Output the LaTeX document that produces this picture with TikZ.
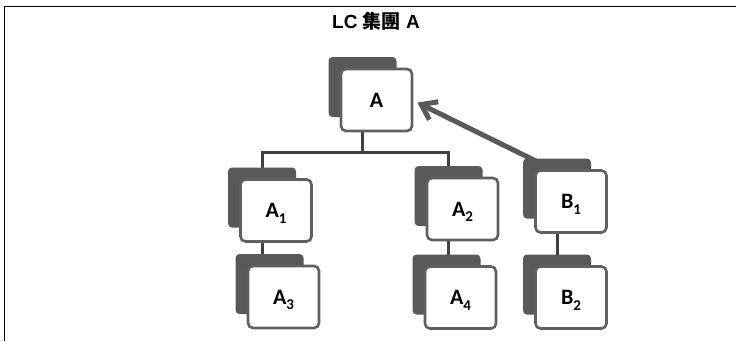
\documentclass[tikz,border=0pt]{standalone}
\usepackage{fontspec}
\setmainfont{Liberation Sans}
\newfontfamily\cardfont{Carlito}
\newfontfamily\cjk{Noto Sans CJK TC}
\usetikzlibrary{arrows.meta}
\pgfdeclarelayer{background}
\pgfsetlayers{background,main}
\definecolor{cardback}{HTML}{595959}
\definecolor{cardedge}{HTML}{606060}
\definecolor{linkgray}{HTML}{404040}
% letter with a lowered index that does not change the label's box
\newcommand\sublabel[2]{#1\smash{\raisebox{-5.8pt}{\fontsize{15}{15}\selectfont #2}}}
% a card: dark shadow card behind, white framed card in front
\newcommand\orgcard[4]{%
  \node[backcard] (#1b) at (#2,#3) {};
  \node[frontcard] (#1) at (#2,#3) {#4};}
\begin{document}
\begin{tikzpicture}[x=1pt,y=-1pt,
  backcard/.style={fill=cardback, rounded corners=4pt, minimum width=68pt,
    minimum height=60pt, inner sep=0pt, outer sep=0pt, xshift=-14pt, yshift=13pt},
  frontcard/.style={fill=white, draw=cardedge, line width=2.6pt, rounded corners=5pt,
    minimum width=71pt, minimum height=62pt, inner sep=0pt, outer sep=0pt,
    font={\cardfont\bfseries\fontsize{22}{26}\selectfont}},
  link/.style={draw=linkgray, line width=3pt},
  pointer/.style={draw=cardback, line width=5pt, -{Straight Barb[length=14pt,width=20pt]}},
]
\useasboundingbox (0,0) rectangle (736,341);
% frame
\draw[line width=1pt] (4,341) -- (4,6) -- (736,6);
% title
\node[anchor=base, font={\bfseries\fontsize{19}{22}\selectfont}] (title) at (376,28.7)
  {LC {\cjk 集團} A};
% cards
\orgcard{A}{376.5}{100}{A}
\orgcard{A1}{276}{210.5}{\sublabel{A}{1}}
\orgcard{A3}{283.5}{297}{\sublabel{A}{3}}
\orgcard{A2}{462.5}{209}{\sublabel{A}{2}}
\orgcard{A4}{460.5}{297.5}{\sublabel{A}{4}}
\orgcard{B1}{571}{201.5}{\sublabel{B}{1}}
\orgcard{B2}{571}{297.5}{\sublabel{B}{2}}
% connectors, kept behind the cards
\begin{pgfonlayer}{background}
  \coordinate (bus) at (Ab.center |- 0,152.5);
  \draw[link] (Ab.center) -- (bus);
  \draw[link] (A1b.center) |- (bus) -| (A2b.center);
  \draw[link] (A1b.center) -- (A1b.center |- A3b.center);
  \draw[link] (A2b.center) -- (A2b.center |- A4b.center);
  \draw[link] (B1b.center) -- (B1b.center |- B2b.center);
  \coordinate (tail) at (548,167);
  \draw[pointer, shorten >=6pt] (tail) -- (A.east);
\end{pgfonlayer}
\end{tikzpicture}
\end{document}
